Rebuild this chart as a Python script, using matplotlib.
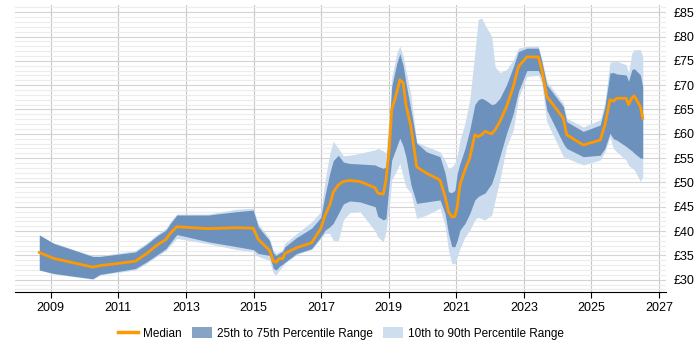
import matplotlib
matplotlib.use("Agg")
import matplotlib.pyplot as plt
from matplotlib.patches import Patch
from matplotlib.lines import Line2D
from matplotlib.ticker import MultipleLocator, FuncFormatter

plt.rcParams["font.family"] = ["Liberation Sans", "DejaVu Sans"]

# --------------------------------------------------
# Data (decimal years, GBP)
# --------------------------------------------------

years = [2008.66, 2009.08, 2010.24, 2010.46, 2011.50, 2011.84, 2012.14, 2012.41,
         2012.53, 2012.73, 2013.66, 2014.50, 2014.99, 2015.14, 2015.47, 2015.59,
         2015.67, 2015.77, 2015.86, 2015.93, 2016.28, 2016.72, 2016.99, 2017.12,
         2017.26, 2017.36, 2017.51, 2017.66, 2017.85, 2018.15, 2018.60, 2018.68,
         2018.84, 2018.92, 2019.02, 2019.09, 2019.24, 2019.33, 2019.43, 2019.51,
         2019.66, 2019.83, 2020.12, 2020.52, 2020.67, 2020.77, 2020.87, 2020.96,
         2021.03, 2021.11, 2021.26, 2021.40, 2021.55, 2021.65, 2021.75, 2021.85,
         2022.05, 2022.15, 2022.29, 2022.49, 2022.69, 2022.84, 2023.09, 2023.43,
         2023.53, 2023.68, 2024.17, 2024.27, 2024.76, 2025.26, 2025.40, 2025.55,
         2025.65, 2025.75, 2026.03, 2026.10, 2026.20, 2026.27, 2026.45, 2026.52]

median = [35.6, 34.4, 32.6, 32.9, 33.8, 35.4, 37.1, 38.3,
          39.5, 40.9, 40.5, 40.7, 40.6, 38.3, 36.1, 33.8,
          33.6, 34.4, 34.3, 35.4, 36.6, 37.6, 40.5, 43.3,
          45.4, 48.0, 49.5, 50.2, 50.4, 50.2, 48.9, 47.8,
          47.6, 50.4, 57.0, 64.9, 68.5, 71.1, 70.5, 66.0,
          61.5, 53.2, 51.9, 50.5, 47.1, 44.0, 42.9, 43.0,
          45.0, 49.5, 52.6, 55.0, 59.8, 59.4, 59.8, 60.5,
          60.0, 60.8, 62.5, 65.6, 69.7, 73.8, 75.8, 75.8,
          73.2, 67.7, 63.2, 59.8, 57.7, 58.7, 61.8, 67.0,
          66.7, 67.3, 67.3, 66.0, 67.4, 67.8, 65.6, 63.2]

p75 = [39.2, 37.5, 34.8, 34.8, 35.7, 37.3, 39.0, 40.2,
       41.5, 43.3, 43.3, 44.0, 44.3, 40.9, 38.1, 35.5,
       35.0, 35.5, 35.8, 36.8, 38.7, 40.6, 42.8, 47.5,
       52.0, 54.5, 55.6, 54.2, 53.9, 53.8, 53.6, 53.3,
       52.9, 53.2, 62.0, 69.7, 74.5, 76.5, 74.0, 70.5,
       64.9, 58.1, 56.3, 55.3, 51.9, 48.1, 47.9, 48.4,
       51.9, 53.9, 57.0, 60.8, 66.0, 67.0, 67.3, 67.0,
       66.0, 66.2, 67.3, 70.1, 73.8, 76.9, 77.6, 77.6,
       75.0, 70.1, 65.6, 62.5, 60.5, 61.8, 65.6, 72.5,
       72.6, 72.3, 72.1, 70.8, 73.2, 73.4, 72.1, 69.7]

p25 = [32.0, 31.3, 30.2, 31.1, 32.3, 33.7, 35.1, 36.4,
       37.5, 39.3, 37.8, 36.8, 36.2, 35.4, 35.0, 32.3,
       32.0, 32.8, 33.2, 33.6, 35.4, 36.4, 38.8, 40.2,
       40.9, 41.6, 43.6, 45.6, 46.2, 46.0, 45.0, 43.0,
       42.3, 42.6, 50.0, 54.6, 57.4, 59.1, 57.4, 55.3,
       49.5, 45.7, 46.0, 46.4, 43.6, 39.5, 36.8, 36.8,
       38.1, 40.2, 41.6, 43.6, 46.4, 47.1, 47.5, 47.8,
       49.8, 51.9, 55.3, 60.1, 64.2, 68.7, 73.0, 73.0,
       71.5, 64.9, 58.0, 57.0, 55.3, 55.6, 57.0, 60.1,
       59.0, 58.7, 57.4, 57.0, 56.5, 56.0, 55.0, 55.0]

p10 = [32.0, 31.2, 30.1, 31.0, 32.0, 33.4, 34.8, 36.0,
       37.0, 38.5, 37.4, 36.2, 35.8, 34.8, 34.0, 31.3,
       31.0, 32.0, 32.8, 33.4, 35.2, 36.2, 38.5, 39.5,
       39.5, 38.1, 38.0, 42.3, 43.8, 44.0, 40.0, 38.8,
       37.8, 40.0, 45.0, 50.5, 52.5, 53.9, 51.2, 49.1,
       47.8, 42.6, 43.3, 44.7, 41.1, 36.1, 33.3, 33.3,
       34.7, 36.4, 38.8, 40.2, 42.3, 42.9, 42.5, 42.3,
       43.3, 46.4, 50.5, 57.4, 60.8, 67.3, 71.8, 72.0,
       70.5, 62.5, 55.3, 55.0, 53.6, 54.6, 56.3, 59.4,
       57.0, 56.3, 54.6, 53.5, 53.0, 52.6, 50.2, 51.2]

p90 = [39.2, 37.6, 34.9, 34.9, 36.0, 37.6, 39.3, 40.6,
       41.8, 43.5, 43.5, 44.5, 44.7, 41.5, 38.6, 36.0,
       35.5, 35.8, 36.3, 37.5, 39.5, 41.9, 44.0, 50.5,
       56.0, 58.5, 57.0, 55.5, 55.6, 56.0, 56.7, 57.0,
       56.5, 56.0, 64.0, 71.5, 76.6, 78.0, 76.0, 73.0,
       68.0, 58.3, 57.4, 56.3, 54.5, 52.9, 53.2, 54.0,
       55.6, 58.7, 62.2, 67.0, 76.6, 83.5, 83.8, 82.4,
       80.0, 73.8, 72.6, 73.2, 75.2, 77.6, 78.0, 78.0,
       75.5, 70.8, 66.3, 63.2, 61.4, 62.9, 66.5, 74.7,
       74.8, 74.9, 74.2, 72.5, 76.6, 77.3, 77.3, 75.9]

year_ticks = [2009, 2011, 2013, 2015, 2017, 2019, 2021, 2023, 2025, 2027]

ORANGE = "#ff9900"
DARK = "#6d91bd"
LIGHT = "#cbdcee"

# --------------------------------------------------
# Chart
# --------------------------------------------------

fig = plt.figure(figsize=(7, 3.5), dpi=100)
ax = fig.add_axes([0.0214, 0.166, 0.9296, 0.820])

ax.fill_between(years, p10, p90, color=LIGHT, linewidth=0, zorder=2)
ax.fill_between(years, p25, p75, color=DARK, linewidth=0, zorder=3)
ax.plot(years, median, color=ORANGE, linewidth=2, zorder=4)

ax.set_xlim(2007.94, 2027.2)
ax.set_ylim(27.5, 86.5)

ax.set_xticks(year_ticks)
ax.set_xticklabels([str(y) for y in year_ticks])

ax.yaxis.set_major_locator(MultipleLocator(5))
ax.yaxis.set_minor_locator(MultipleLocator(1))
ax.yaxis.set_major_formatter(FuncFormatter(lambda v, p: f"£{int(v)}"))
ax.yaxis.tick_right()
ax.set_yticks([30, 35, 40, 45, 50, 55, 60, 65, 70, 75, 80, 85])

ax.grid(axis="y", which="major", color="#d4d4d4", linewidth=0.8, zorder=0)
ax.grid(axis="y", which="minor", color="#ececec", linewidth=0.8, zorder=0)
ax.grid(axis="x", which="major", color="#c8c8c8", linewidth=0.8, zorder=0)
ax.set_axisbelow(True)

ax.tick_params(axis="y", which="both", length=0, labelsize=9, pad=6)
ax.tick_params(axis="x", length=4, color="#000000", labelsize=9)

for side in ["top", "left", "right"]:
    ax.spines[side].set_visible(False)
ax.spines["bottom"].set_color("#000000")

handles = [
    Line2D([0], [0], color=ORANGE, linewidth=2.5),
    Patch(facecolor="#86a3c6", edgecolor="none"),
    Patch(facecolor="#cfdeee", edgecolor="none"),
]
labels = ["Median", "25th to 75th Percentile Range", "10th to 90th Percentile Range"]
fig.legend(handles, labels, loc="center", bbox_to_anchor=(0.487, 0.047), ncol=3,
           frameon=False, fontsize=8.5, handlelength=1.7, handleheight=1.0,
           columnspacing=0.85, handletextpad=0.45)

fig.savefig("out.png", dpi=100)
plt.close(fig)
